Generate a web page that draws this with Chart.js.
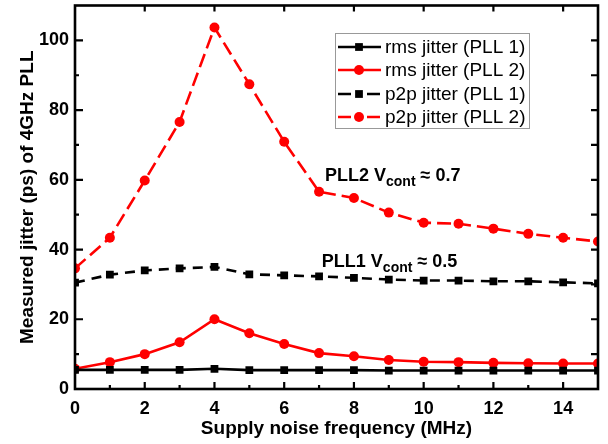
<!DOCTYPE html>
<html>
<head>
<meta charset="utf-8">
<script src="https://cdn.jsdelivr.net/npm/chart.js@4.4.1/dist/chart.umd.min.js"></script>
<style>
  html, body { margin: 0; padding: 0; background: #fff; }
  #wrap { width: 608px; height: 444px; }
</style>
</head>
<body>
<div id="wrap"><canvas id="jitter" width="608" height="444"></canvas></div>
<script>
const freqMHz = [0, 1, 2, 3, 4, 5, 6, 7, 8, 9, 10, 11, 12, 13, 14, 15];
const rmsPll1 = [5.5, 5.5, 5.5, 5.5, 5.8, 5.4, 5.4, 5.4, 5.4, 5.3, 5.3, 5.3, 5.3, 5.3, 5.3, 5.3];
const rmsPll2 = [5.8, 7.7, 10.0, 13.4, 20.0, 16.0, 12.9, 10.3, 9.4, 8.3, 7.8, 7.7, 7.5, 7.4, 7.3, 7.3];
const p2pPll1 = [30.5, 32.8, 34.0, 34.6, 35.0, 32.9, 32.6, 32.3, 31.9, 31.4, 31.1, 31.1, 30.9, 30.9, 30.6, 30.3];
const p2pPll2 = [34.6, 43.4, 59.8, 76.6, 103.7, 87.4, 70.9, 56.6, 54.8, 50.6, 47.7, 47.4, 46.0, 44.5, 43.4, 42.3];

const seriesNames = ['rms jitter (PLL 1)', 'rms jitter (PLL 2)', 'p2p jitter (PLL 1)', 'p2p jitter (PLL 2)'];
const notes = [
  { x: 7.17, y: 61.3, main: 'PLL2 V', sub: 'cont', tail: ' \u2248 0.7' },
  { x: 7.08, y: 36.8, main: 'PLL1 V', sub: 'cont', tail: ' \u2248 0.5' },
];

const RED = '#ff0000';
const BLACK = '#000000';
const FONT = '"Liberation Sans", Arial, sans-serif';

function toPoints(values) {
  return values.map((v, i) => ({ x: freqMHz[i], y: v }));
}

const styles = [
  { color: BLACK, dash: [], point: 'rect', radius: 5.5 },
  { color: RED, dash: [], point: 'circle', radius: 5 },
  { color: BLACK, dash: [10, 7], point: 'rect', radius: 5.5 },
  { color: RED, dash: [14, 6], point: 'circle', radius: 5 },
];

const datasets = [rmsPll1, rmsPll2, p2pPll1, p2pPll2].map((vals, i) => ({
  label: seriesNames[i],
  data: toPoints(vals),
  borderColor: styles[i].color,
  backgroundColor: styles[i].color,
  borderWidth: 2.6,
  borderDash: styles[i].dash,
  pointStyle: styles[i].point,
  pointRadius: styles[i].radius,
  pointBorderWidth: 0,
  tension: 0,
}));

function drawMarker(ctx, style, x, y) {
  ctx.fillStyle = style.color;
  ctx.beginPath();
  if (style.point === 'rect') {
    const s = style.radius * Math.SQRT1_2;
    ctx.rect(x - s, y - s, 2 * s, 2 * s);
  } else {
    ctx.arc(x, y, style.radius, 0, Math.PI * 2);
  }
  ctx.fill();
}

// drop the extra room Chart.js keeps for end labels
function noEndPadding(s) {
  s.paddingTop = 0;
  s.paddingBottom = 0;
  s.paddingLeft = 0;
  s.paddingRight = 0;
}

const framePlugin = {
  id: 'frame',
  afterDraw(chart) {
    const { ctx, chartArea: a, scales } = chart;
    const xs = scales.x, ys = scales.y;
    ctx.save();
    ctx.strokeStyle = BLACK;
    ctx.lineWidth = 2.6;
    ctx.setLineDash([]);
    ctx.strokeRect(a.left, a.top, a.right - a.left, a.bottom - a.top);

    // inward ticks
    ctx.lineWidth = 2.2;
    ctx.beginPath();
    for (let v = 1; v < 15; v++) {
      const px = xs.getPixelForValue(v);
      const len = v % 2 === 0 ? 7 : 4;
      ctx.moveTo(px, a.bottom);
      ctx.lineTo(px, a.bottom - len);
      if (v % 2 === 0) {
        ctx.moveTo(px, a.top);
        ctx.lineTo(px, a.top + 6);
      }
    }
    for (let v = 10; v <= 100; v += 10) {
      const py = ys.getPixelForValue(v);
      const len = v % 20 === 0 ? 8 : 4;
      ctx.moveTo(a.left, py);
      ctx.lineTo(a.left + len, py);
      ctx.moveTo(a.right, py);
      ctx.lineTo(a.right - 7, py);
    }
    ctx.stroke();

    // legend box
    const bx = 335, by = 33, bw = 194, bh = 95;
    ctx.fillStyle = '#fff';
    ctx.fillRect(bx, by, bw, bh);
    ctx.strokeStyle = '#999';
    ctx.lineWidth = 1;
    ctx.strokeRect(bx + 0.5, by + 0.5, bw, bh);
    const rows = [47, 70, 94, 117];
    ctx.font = '19px ' + FONT;
    ctx.textBaseline = 'middle';
    ctx.textAlign = 'left';
    rows.forEach((ry, i) => {
      const st = styles[i];
      ctx.strokeStyle = st.color;
      ctx.lineWidth = 2.6;
      ctx.beginPath();
      if (st.dash.length) {
        ctx.moveTo(338, ry); ctx.lineTo(351, ry);
        ctx.moveTo(367, ry); ctx.lineTo(380, ry);
      } else {
        ctx.moveTo(338, ry); ctx.lineTo(381, ry);
      }
      ctx.stroke();
      drawMarker(ctx, st, 359, ry);
      ctx.fillStyle = BLACK;
      ctx.fillText(seriesNames[i], 385, ry + 1);
    });

    // annotations
    notes.forEach((n) => {
      let px = xs.getPixelForValue(n.x);
      const py = ys.getPixelForValue(n.y);
      ctx.fillStyle = BLACK;
      ctx.textBaseline = 'alphabetic';
      ctx.font = 'bold 18px ' + FONT;
      ctx.fillText(n.main, px, py + 6);
      px += ctx.measureText(n.main).width;
      ctx.font = 'bold 14px ' + FONT;
      ctx.fillText(n.sub, px, py + 11);
      px += ctx.measureText(n.sub).width;
      ctx.font = 'bold 18px ' + FONT;
      ctx.fillText(n.tail, px, py + 6);
    });
    ctx.restore();
  },
};

new Chart(document.getElementById('jitter'), {
  type: 'line',
  data: { datasets },
  options: {
    responsive: false,
    animation: false,
    layout: { padding: { top: 4, right: 10, left: 0, bottom: 0 } },
    plugins: { legend: { display: false }, tooltip: { enabled: false } },
    scales: {
      x: {
        type: 'linear',
        min: 0,
        max: 15,
        afterFit: (s) => { s.height = 55; noEndPadding(s); },
        grid: { display: false, drawTicks: false },
        border: { display: false },
        ticks: {
          stepSize: 2,
          includeBounds: false,
          padding: 9,
          color: BLACK,
          font: { family: FONT, size: 18, weight: 'bold' },
        },
        title: {
          display: true,
          text: 'Supply noise frequency (MHz)',
          color: BLACK,
          padding: { top: 0, bottom: 4 },
          font: { family: FONT, size: 19, weight: 'bold' },
        },
      },
      y: {
        min: 0,
        max: 110,
        afterFit: (s) => { s.width = 75; noEndPadding(s); },
        grid: { display: false, drawTicks: false },
        border: { display: false },
        ticks: {
          stepSize: 20,
          includeBounds: false,
          padding: 6,
          color: BLACK,
          font: { family: FONT, size: 18, weight: 'bold' },
        },
        title: {
          display: true,
          text: 'Measured jitter (ps) of 4GHz PLL',
          color: BLACK,
          padding: { top: 16, bottom: 0 },
          font: { family: FONT, size: 19, weight: 'bold' },
        },
      },
    },
  },
  plugins: [framePlugin],
});
</script>
</body>
</html>
